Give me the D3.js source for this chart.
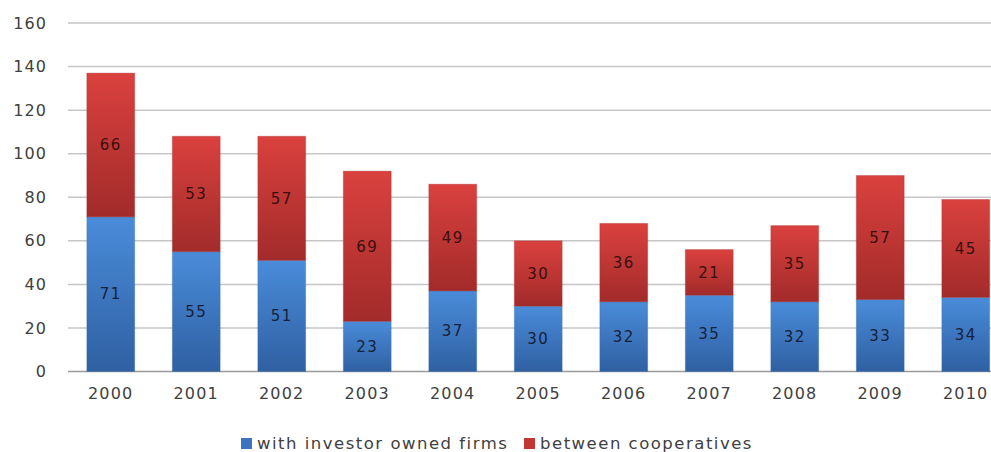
<!DOCTYPE html>
<html><head><meta charset="utf-8">
<script src="https://cdn.jsdelivr.net/npm/d3@7"></script>
<style>body{margin:0;background:#fff;}svg{display:block;font-family:"DejaVu Sans",sans-serif;}</style>
</head><body><svg id="c" width="991" height="452"></svg>
<script>
const years = ["2000","2001","2002","2003","2004","2005","2006","2007","2008","2009","2010"];
const investorOwned = [71,55,51,23,37,30,32,35,32,33,34];
const cooperatives = [66,53,57,69,49,30,36,21,35,57,45];
const yTicks = [0,20,40,60,80,100,120,140,160];
const seriesNames = ["with investor owned firms","between cooperatives"];

const svg = d3.select("#c");
const x = d3.scaleBand().domain(years).range([68, 68 + 85.5*years.length]).paddingInner(0.44).paddingOuter(0.22);
const y = d3.scaleLinear().domain([0,160]).range([371.5, 23]);

const defs = svg.append("defs");
function grad(id, c1, c2){
  const g = defs.append("linearGradient").attr("id",id).attr("x1",0).attr("y1",0).attr("x2",0).attr("y2",1);
  g.append("stop").attr("offset","0%").attr("stop-color",c1);
  g.append("stop").attr("offset","100%").attr("stop-color",c2);
}
grad("gb","#4a8cda","#2f60a2");
grad("gr","#da413e","#a22b2a");

// gridlines
svg.append("g").selectAll("line").data(yTicks).join("line")
  .attr("x1",68).attr("x2",991).attr("y1",d=>y(d)).attr("y2",d=>y(d))
  .attr("stroke",d=>d===0?"#9a9a9a":"#c6c6c6").attr("stroke-width",1.5);

// y labels
svg.append("g").selectAll("text").data(yTicks).join("text")
  .attr("x",47).attr("y",d=>y(d)).attr("dy","0.35em").attr("text-anchor","end")
  .attr("font-size",16).attr("letter-spacing",1.1).attr("fill","#404040").text(d=>d);

const bw = x.bandwidth();
const g = svg.append("g");
years.forEach((yr,i)=>{
  const a = investorOwned[i], b = cooperatives[i];
  g.append("rect").attr("x",x(yr)).attr("width",bw).attr("y",y(a)).attr("height",y(0)-y(a))
    .attr("fill","url(#gb)").attr("stroke","#3a6aa8").attr("stroke-opacity",0.3);
  g.append("rect").attr("x",x(yr)).attr("width",bw).attr("y",y(a+b)).attr("height",y(a)-y(a+b))
    .attr("fill","url(#gr)").attr("stroke","#a03030").attr("stroke-opacity",0.3);
  g.append("text").attr("x",x(yr)+bw/2).attr("y",y(a/2)).attr("dy","0.35em").attr("text-anchor","middle")
    .attr("font-size",15).attr("fill","#15213a").attr("letter-spacing",1.5).text(a);
  g.append("text").attr("x",x(yr)+bw/2).attr("y",y(a+b/2)).attr("dy","0.35em").attr("text-anchor","middle")
    .attr("font-size",15).attr("fill","#3a0f0f").attr("letter-spacing",1.5).text(b);
});

// x labels
svg.append("g").selectAll("text").data(years).join("text")
  .attr("x",d=>x(d)+bw/2).attr("y",393).attr("dy","0.35em").attr("text-anchor","middle")
  .attr("font-size",16).attr("fill","#404040").attr("letter-spacing",1.2).text(d=>d);

// legend
const leg = svg.append("g");
const lx = [241, 524], cols = ["#3d74c0","#c23634"];
seriesNames.forEach((n,i)=>{
  leg.append("rect").attr("x",lx[i]).attr("y",438).attr("width",11).attr("height",11).attr("fill",cols[i]);
  leg.append("text").attr("x",lx[i]+16).attr("y",443).attr("dy","0.35em").attr("font-size",16.5)
    .attr("fill","#404040").attr("letter-spacing",1.5).text(n);
});
</script></body></html>
